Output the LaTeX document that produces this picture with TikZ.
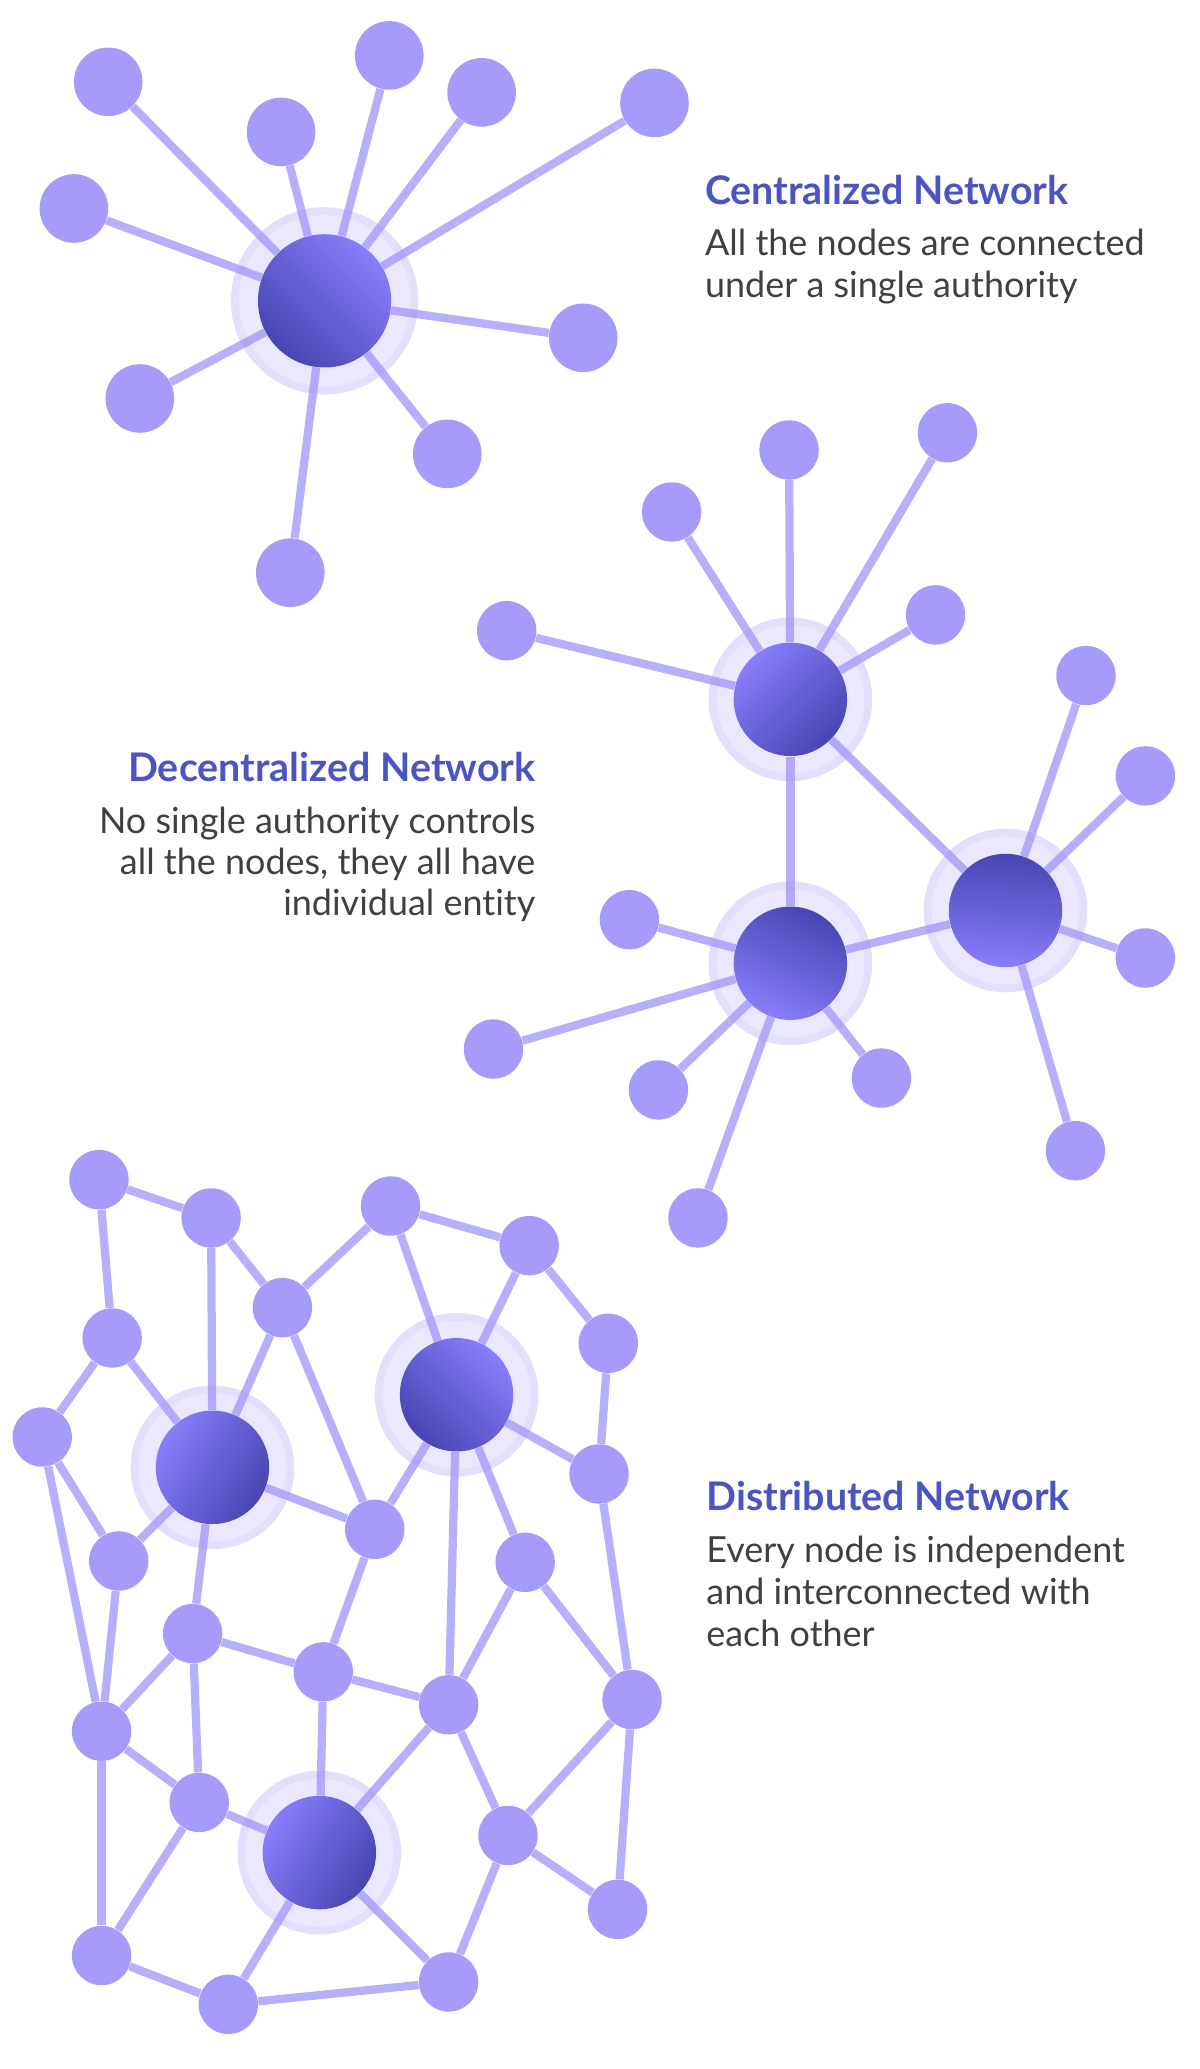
\documentclass[tikz,border=0pt]{standalone}
\usepackage{fontspec}
\setmainfont{Lato}[Ligatures=NoCommon]
\usepackage{tikz}

\definecolor{leafc}{HTML}{A49BFB}
\definecolor{hublight}{HTML}{887DFB}
\definecolor{hubdark}{HTML}{4845B1}
\definecolor{haloout}{HTML}{E2DFFD}
\definecolor{haloin}{HTML}{EAE8FE}
\definecolor{linkc}{HTML}{A198FA}
\definecolor{titlec}{HTML}{4A54C3}
\definecolor{bodyc}{HTML}{3F4141}

\pgfdeclarelayer{halo}
\pgfdeclarelayer{edges}
\pgfsetlayers{halo,edges,main}

\tikzset{
  leaf/.style={circle, fill=leafc, minimum size=0.9cm, inner sep=0pt},
  bigleaf/.style={leaf, minimum size=1.04cm},
  hub/.style={circle, inner sep=0pt, minimum size=1.72cm, top color=hublight, bottom color=hubdark},
  mainhub/.style={hub, minimum size=2.02cm},
  link/.style={draw=linkc, line width=0.125cm, draw opacity=0.78},
  heading/.style={text=titlec, font=\bfseries\fontsize{17}{20}\selectfont, inner sep=0pt},
  desc/.style={text=bodyc, font=\fontsize{15.5}{18}\selectfont, inner sep=0pt}
}

\begin{document}
\begin{tikzpicture}[x={(0.02cm,0)}, y={(0,-0.02cm)}]
    \useasboundingbox (0,0) rectangle (909,1568);

    % Centralized network
    \node[mainhub, shading angle=-45] (C) at (246,228) {};
    \node[bigleaf] (CL1) at (82,62) {};
    \node[bigleaf] (CL2) at (295,42) {};
    \node[bigleaf] (CL3) at (365,70) {};
    \node[bigleaf] (CL4) at (496,78) {};
    \node[bigleaf] (CL5) at (213,100) {};
    \node[bigleaf] (CL6) at (56,158) {};
    \node[bigleaf] (CL7) at (442,256) {};
    \node[bigleaf] (CL8) at (106,302) {};
    \node[bigleaf] (CL9) at (339,344) {};
    \node[bigleaf] (CL10) at (220,434) {};

    % Decentralized network
    \node[hub, shading angle=45] (D1) at (599,530) {};
    \node[hub, top color=hubdark, bottom color=hublight, shading angle=-5] (D2) at (762,690) {};
    \node[hub, top color=hubdark, bottom color=hublight, shading angle=-25] (D3) at (599,730) {};
    \node[leaf] (D1a) at (598,341) {};
    \node[leaf] (D1b) at (718,328) {};
    \node[leaf] (D1c) at (509,388) {};
    \node[leaf] (D1d) at (709,466) {};
    \node[leaf] (D1e) at (384,478) {};
    \node[leaf] (D2a) at (823,512) {};
    \node[leaf] (D2b) at (868,588) {};
    \node[leaf] (D2c) at (868,726) {};
    \node[leaf] (D2d) at (815,872) {};
    \node[leaf] (D3a) at (477,697) {};
    \node[leaf] (D3b) at (374,795) {};
    \node[leaf] (D3c) at (499,826) {};
    \node[leaf] (D3d) at (668,817) {};
    \node[leaf] (D3e) at (529,923) {};

    % Distributed network
    \node[hub, shading angle=-45] (H1) at (346,1057) {};
    \node[hub, shading angle=60] (H2) at (161,1112) {};
    \node[hub, shading angle=60] (H3) at (242,1404) {};
    \node[leaf] (N1) at (75,894) {};
    \node[leaf] (N2) at (160,923) {};
    \node[leaf] (N3) at (296,914) {};
    \node[leaf] (N4) at (401,944) {};
    \node[leaf] (N5) at (85,1014) {};
    \node[leaf] (N6) at (214,991) {};
    \node[leaf] (N7) at (461,1018) {};
    \node[leaf] (N8) at (32,1089) {};
    \node[leaf] (N9) at (454,1117) {};
    \node[leaf] (N10) at (284,1159) {};
    \node[leaf] (N11) at (90,1183) {};
    \node[leaf] (N12) at (398,1184) {};
    \node[leaf] (N13) at (146,1238) {};
    \node[leaf] (N14) at (245,1267) {};
    \node[leaf] (N15) at (340,1292) {};
    \node[leaf] (N16) at (479,1288) {};
    \node[leaf] (N17) at (77,1312) {};
    \node[leaf] (N18) at (151,1366) {};
    \node[leaf] (N19) at (385,1391) {};
    \node[leaf] (N20) at (468,1447) {};
    \node[leaf] (N21) at (77,1482) {};
    \node[leaf] (N22) at (173,1519) {};
    \node[leaf] (N23) at (340,1502) {};

    % Halos behind the hubs
    \begin{pgfonlayer}{halo}
        \fill[haloout] (C) circle (71);
        \fill[haloin] (C) circle (65);
        \fill[haloout] (D1) circle (62);
        \fill[haloin] (D1) circle (56);
        \fill[haloout] (D2) circle (62);
        \fill[haloin] (D2) circle (56);
        \fill[haloout] (D3) circle (62);
        \fill[haloin] (D3) circle (56);
        \fill[haloout] (H1) circle (62);
        \fill[haloin] (H1) circle (56);
        \fill[haloout] (H2) circle (62);
        \fill[haloin] (H2) circle (56);
        \fill[haloout] (H3) circle (62);
        \fill[haloin] (H3) circle (56);
    \end{pgfonlayer}

    % Connecting lines
    \begin{pgfonlayer}{edges}
        \draw[link] (C) -- (CL1);
        \draw[link] (C) -- (CL2);
        \draw[link] (C) -- (CL3);
        \draw[link] (C) -- (CL4);
        \draw[link] (C) -- (CL5);
        \draw[link] (C) -- (CL6);
        \draw[link] (C) -- (CL7);
        \draw[link] (C) -- (CL8);
        \draw[link] (C) -- (CL9);
        \draw[link] (C) -- (CL10);

        \draw[link] (D1) -- (D2);
        \draw[link] (D1) -- (D3);
        \draw[link] (D3) -- (D2);
        \draw[link] (D1) -- (D1a);
        \draw[link] (D1) -- (D1b);
        \draw[link] (D1) -- (D1c);
        \draw[link] (D1) -- (D1d);
        \draw[link] (D1) -- (D1e);
        \draw[link] (D2) -- (D2a);
        \draw[link] (D2) -- (D2b);
        \draw[link] (D2) -- (D2c);
        \draw[link] (D2) -- (D2d);
        \draw[link] (D3) -- (D3a);
        \draw[link] (D3) -- (D3b);
        \draw[link] (D3) -- (D3c);
        \draw[link] (D3) -- (D3d);
        \draw[link] (D3) -- (D3e);

        \draw[link] (N1) -- (N2);
        \draw[link] (N1) -- (N5);
        \draw[link] (N2) -- (N6);
        \draw[link] (N2) -- (H2);
        \draw[link] (N3) -- (N6);
        \draw[link] (N3) -- (N4);
        \draw[link] (N3) -- (H1);
        \draw[link] (N4) -- (H1);
        \draw[link] (N4) -- (N7);
        \draw[link] (N5) -- (N8);
        \draw[link] (N5) -- (H2);
        \draw[link] (N6) -- (H2);
        \draw[link] (N6) -- (N10);
        \draw[link] (H1) -- (N10);
        \draw[link] (H1) -- (N9);
        \draw[link] (H1) -- (N12);
        \draw[link] (H1) -- (N15);
        \draw[link] (N7) -- (N9);
        \draw[link] (N8) -- (N11);
        \draw[link] (N8) -- (N17);
        \draw[link] (N9) -- (N16);
        \draw[link] (N10) -- (H2);
        \draw[link] (N10) -- (N14);
        \draw[link] (H2) -- (N11);
        \draw[link] (H2) -- (N13);
        \draw[link] (N11) -- (N17);
        \draw[link] (N12) -- (N15);
        \draw[link] (N12) -- (N16);
        \draw[link] (N13) -- (N17);
        \draw[link] (N13) -- (N14);
        \draw[link] (N13) -- (N18);
        \draw[link] (N14) -- (N15);
        \draw[link] (N14) -- (H3);
        \draw[link] (N15) -- (H3);
        \draw[link] (N15) -- (N19);
        \draw[link] (N16) -- (N19);
        \draw[link] (N16) -- (N20);
        \draw[link] (N17) -- (N18);
        \draw[link] (N17) -- (N21);
        \draw[link] (N18) -- (H3);
        \draw[link] (N18) -- (N21);
        \draw[link] (N19) -- (N20);
        \draw[link] (N19) -- (N23);
        \draw[link] (H3) -- (N22);
        \draw[link] (H3) -- (N23);
        \draw[link] (N21) -- (N22);
        \draw[link] (N22) -- (N23);
    \end{pgfonlayer}

    % Labels
    \node[heading, anchor=base west] (Ctitle) at (534,155) {Centralized Network};
    \node[desc, anchor=base west] (Ctext1) at (534,193.4) {All the nodes are connected};
    \node[desc, anchor=base west] (Ctext2) at (534,225.7) {under a single authority};

    \node[heading, anchor=base east] (Dtitle) at (406,592) {Decentralized Network};
    \node[desc, anchor=base east] (Dtext1) at (406,631.3) {No single authority controls};
    \node[desc, anchor=base east] (Dtext2) at (406,662.9) {all the nodes, they all have};
    \node[desc, anchor=base east] (Dtext3) at (406,694) {individual entity};

    \node[heading, anchor=base west] (Htitle) at (535,1145) {Distributed Network};
    \node[desc, anchor=base west] (Htext1) at (535,1184.3) {Every node is independent};
    \node[desc, anchor=base west] (Htext2) at (535,1216) {and interconnected with};
    \node[desc, anchor=base west] (Htext3) at (535,1247.5) {each other};
\end{tikzpicture}
\end{document}
